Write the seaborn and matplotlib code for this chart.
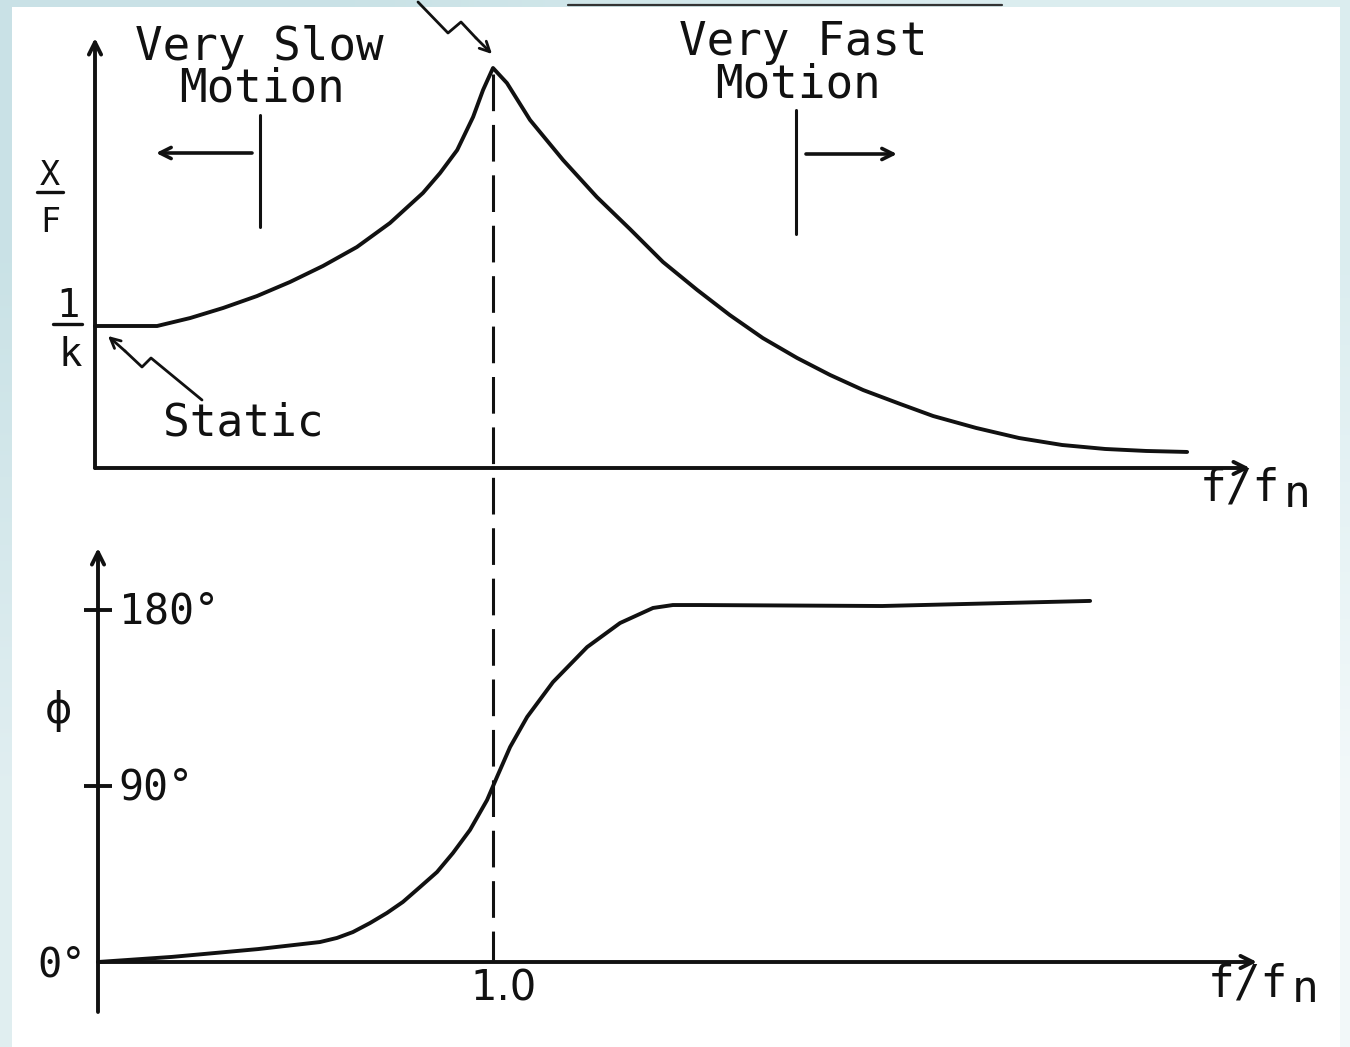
import numpy as np
import pandas as pd
import matplotlib
matplotlib.use("Agg")
import matplotlib.pyplot as plt
import seaborn as sns
from matplotlib.patches import Rectangle

# ---------------- data ----------------
amp_freq_ratio = [0.000, 0.156, 0.239, 0.322, 0.407, 0.490, 0.573, 0.658, 0.741,
                  0.824, 0.867, 0.910, 0.950, 0.975, 1.000, 1.035, 1.093, 1.176,
                  1.261, 1.344, 1.427, 1.513, 1.595, 1.678, 1.764, 1.847, 1.930,
                  2.023, 2.106, 2.214, 2.322, 2.430, 2.538, 2.641, 2.744]
amplitude = [1.000, 1.000, 1.056, 1.127, 1.211, 1.310, 1.423, 1.556, 1.725,
             1.937, 2.077, 2.239, 2.472, 2.662, 2.817, 2.711, 2.451, 2.169,
             1.908, 1.683, 1.451, 1.254, 1.077, 0.915, 0.775, 0.655, 0.549,
             0.451, 0.366, 0.282, 0.211, 0.162, 0.134, 0.120, 0.113]

phase_freq_ratio = [0.000, 0.186, 0.403, 0.559, 0.602, 0.642, 0.685, 0.728, 0.768,
                    0.811, 0.854, 0.894, 0.937, 0.980, 1.005, 1.038, 1.081, 1.146,
                    1.232, 1.315, 1.398, 1.448, 1.516, 1.975, 2.499]
phase_deg = [0.0, 2.6, 6.6, 10.2, 12.3, 15.3, 19.9, 25.1, 30.7,
             38.3, 46.0, 55.7, 67.5, 82.8, 94.6, 109.9, 125.3, 143.1,
             161.0, 173.3, 181.0, 182.5, 182.5, 182.0, 184.6]

phase_ticks = [90, 180]
phase_tick_labels = ["90°", "180°"]
phase_zero_label = "0°"
resonance_ratio = 1.0
resonance_label = "1.0"

# ---------------- style ----------------
sns.set_theme(style="white")
plt.rcParams["font.family"] = ["DejaVu Sans Mono", "DejaVu Sans"]
plt.rcParams["mathtext.default"] = "regular"

W, H = 1350, 1047
fig = plt.figure(figsize=(W / 100, H / 100), dpi=100)
fig.patch.set_facecolor("white")

LW = 2.8
INK = "#111111"

# background (light blue frame), pixel coordinates
bg = fig.add_axes([0, 0, 1, 1], zorder=-10)
bg.set_xlim(0, W)
bg.set_ylim(H, 0)
bg.axis("off")
grad = np.array([[[0.79, 0.886, 0.902], [0.86, 0.93, 0.94]],
                 [[0.88, 0.934, 0.945], [0.95, 0.975, 0.98]]])
bg.imshow(grad, extent=(0, W, H, 0), interpolation="bilinear", aspect="auto")
bg.add_patch(Rectangle((12, 7), 1328, 1045, facecolor="white", edgecolor="none"))

# ---------------- top panel: amplitude ----------------
px_per_x1 = 398.0
px_per_y1 = 142.0
ax1 = fig.add_axes([95 / W, 1 - 468 / H, (1250 - 95) / W, (468 - 38) / H])
ax1.set_facecolor("none")
x1max = (1250 - 95) / px_per_x1
y1max = (468 - 38) / px_per_y1
ax1.set_xlim(0, x1max)
ax1.set_ylim(0, y1max)
ax1.axis("off")

df_amp = pd.DataFrame({"f/fn": amp_freq_ratio, "X/F": amplitude})
sns.lineplot(data=df_amp, x="f/fn", y="X/F", ax=ax1, color=INK, lw=LW, clip_on=False)

arrow_kw = dict(arrowstyle="->", lw=LW, color=INK, mutation_scale=22, shrinkA=0, shrinkB=0)
ax1.annotate("", xy=(x1max, 0), xytext=(0, 0), arrowprops=arrow_kw)
ax1.annotate("", xy=(0, y1max), xytext=(0, 0), arrowprops=arrow_kw)

# dashed line at resonance through both panels
peak = max(amplitude)
ax1.plot([resonance_ratio, resonance_ratio], [peak - 0.04, (468 - 960) / px_per_y1],
         color=INK, lw=2.2, ls=(0, (12, 4.5)), clip_on=False)

# ---------------- bottom panel: phase ----------------
px_per_x2 = 397.0
px_per_deg = 1.956
ax2 = fig.add_axes([98 / W, 1 - 1012 / H, (1257 - 98) / W, (1012 - 548) / H])
ax2.set_facecolor("none")
x2max = (1257 - 98) / px_per_x2
ax2.set_xlim(0, x2max)
ax2.set_ylim((962 - 1012) / px_per_deg, (962 - 548) / px_per_deg)
for s in ax2.spines.values():
    s.set_visible(False)
ax2.set_xticks([])
ax2.set_yticks(phase_ticks)
ax2.set_yticklabels([])
ax2.tick_params(axis="y", direction="inout", length=20, width=LW, color=INK, left=True)
ax2.grid(False)

df_ph = pd.DataFrame({"f/fn": phase_freq_ratio, "phi": phase_deg})
sns.lineplot(data=df_ph, x="f/fn", y="phi", ax=ax2, color=INK, lw=LW, clip_on=False)
ax2.set_xlabel("")
ax2.set_ylabel("")

ylo, yhi = ax2.get_ylim()
ax2.annotate("", xy=(x2max, 0), xytext=(0, 0), arrowprops=arrow_kw)
ax2.annotate("", xy=(0, yhi), xytext=(0, ylo), arrowprops=arrow_kw)

for v, lab in zip(phase_ticks, phase_tick_labels):
    ax2.text(0.052, v - 1, lab, fontsize=30, color=INK, ha="left", va="center")
ax2.text(-0.03, -2, phase_zero_label, fontsize=29, color=INK, ha="right", va="center")
ax2.text(resonance_ratio + 0.022, -13.5, resonance_label, fontsize=30, color=INK,
         ha="center", va="center", family="DejaVu Sans")

# ---------------- texts & annotations (pixel coords) ----------------
def T(x, y, s, size=32, **kw):
    kw.setdefault("ha", "center")
    kw.setdefault("va", "baseline")
    bg.text(x, y, s, fontsize=size, color=INK, **kw)

T(259, 60, "Very Slow", 33)
T(262, 102, "Motion", 33)
T(803, 55, "Very Fast", 33)
T(798, 97, "Motion", 33)
T(243, 435, "Static", 32)
T(1200, 500, "f/f", 32, ha="left")
T(1284, 507, "n", 32, ha="left")
T(1208, 996, "f/f", 32, ha="left")
T(1292, 1002, "n", 32, ha="left")
T(58, 711, "ϕ", 30, va="center", family="DejaVu Sans")

# X/F label
T(50, 185, "X", 24)
bg.plot([37, 63], [192, 192], color=INK, lw=2.4)
T(50, 232, "F", 24)
# 1/k label
T(68, 317, "1", 28)
bg.plot([53, 82], [324, 324], color=INK, lw=2.4)
T(70, 366, "k", 28)

# slow / fast region markers
bg.plot([260, 260], [115, 227], color=INK, lw=2.2)
bg.annotate("", xy=(156, 153), xytext=(252, 153), arrowprops=dict(arrowstyle="->", lw=2.6, color=INK, mutation_scale=20, shrinkA=0, shrinkB=0))
bg.plot([796, 796], [110, 234], color=INK, lw=2.2)
bg.annotate("", xy=(897, 154), xytext=(806, 154), arrowprops=dict(arrowstyle="->", lw=2.6, color=INK, mutation_scale=20, shrinkA=0, shrinkB=0))

# zig-zag pointers
bg.plot([202, 151, 142, 125], [400, 358, 367, 351], color=INK, lw=2.0)
bg.annotate("", xy=(108, 336), xytext=(125, 351), arrowprops=dict(arrowstyle="->", lw=2.0, color=INK, mutation_scale=18, shrinkA=0, shrinkB=0))
bg.plot([418, 448, 461, 476], [2, 33, 22, 38], color=INK, lw=2.0)
bg.annotate("", xy=(492, 54), xytext=(476, 38), arrowprops=dict(arrowstyle="->", lw=2.0, color=INK, mutation_scale=18, shrinkA=0, shrinkB=0))
bg.plot([568, 1002], [5, 5], color="#333333", lw=1.6)

fig.savefig("out.png", dpi=100, facecolor=fig.get_facecolor())
